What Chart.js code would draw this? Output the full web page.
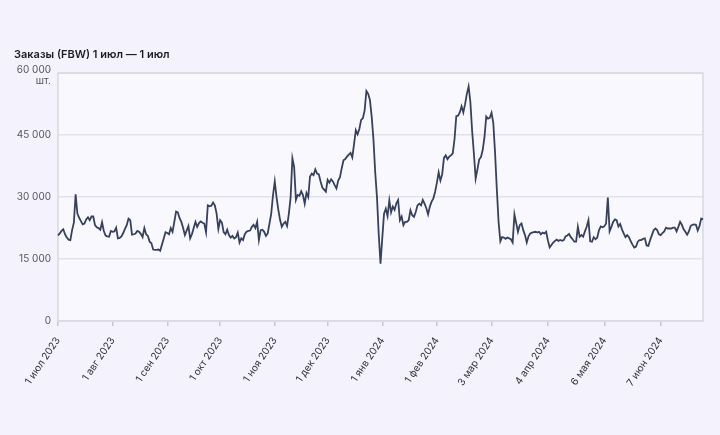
<!DOCTYPE html>
<html>
<head>
<meta charset="utf-8">
<script src="https://cdn.jsdelivr.net/npm/chart.js@4/dist/chart.umd.min.js"></script>
<style>
  html, body { margin: 0; padding: 0; background: #f3f2fd; }
  #wrap { width: 720px; height: 435px; }
</style>
</head>
<body>
<div id="wrap"><canvas id="c" width="720" height="435"></canvas></div>
<script>
// ---- DATA (daily orders, шт.) ----
const startDate = [2023, 6, 1]; // 1 июл 2023
const monthNames = ['янв','фев','мар','апр','мая','июн','июл','авг','сен','окт','ноя','дек'];
const jul2023 = [20700, 21200, 21800, 22200, 21000, 20200, 19700, 19600, 22000, 23800, 30700, 26000, 25000, 24200, 23400, 23600, 24600, 25100, 24400, 25300, 25300, 23200, 22700, 22500, 22100, 23900, 21800, 20700, 20500, 20400, 21800];
const aug2023 = [21600, 21700, 22600, 20000, 20100, 20500, 21300, 22300, 23200, 24800, 24400, 20900, 21000, 21200, 21800, 21600, 21100, 20300, 22500, 21000, 20600, 19200, 18800, 17300, 17200, 17200, 17300, 17000, 18500, 20000, 21500];
const sep2023 = [21300, 21000, 22500, 21600, 24000, 26500, 26300, 24900, 24000, 22500, 20800, 21900, 23000, 20000, 21000, 22500, 24000, 22800, 23700, 24100, 23800, 23600, 21500, 28000, 27800, 27900, 28700, 28000, 26000, 22300];
const oct2023 = [24400, 23800, 21500, 21000, 22100, 20800, 20200, 20600, 20000, 20300, 21400, 19000, 20000, 19600, 21000, 21600, 21800, 21900, 22800, 23300, 22500, 24000, 19600, 22000, 22100, 21600, 20600, 21200, 23600, 26000, 30500];
const nov2023 = [33800, 30000, 27000, 24500, 22800, 23600, 24000, 23000, 26000, 30000, 39400, 37300, 29300, 30500, 30300, 31400, 30500, 28400, 31000, 30000, 35000, 35700, 35300, 36700, 35700, 35500, 33800, 32300, 31800, 31300];
const dec2023 = [34200, 33500, 34300, 33800, 32900, 32100, 34000, 34800, 37000, 38900, 39200, 39800, 40300, 40700, 39600, 42900, 46200, 45200, 46500, 48700, 49100, 51000, 55700, 55000, 53500, 49500, 44000, 36000, 30000, 21000, 13900];
const jan2024 = [20000, 26000, 27200, 25400, 29200, 26300, 27700, 26900, 28500, 29300, 24400, 25300, 23200, 24000, 24000, 24400, 26800, 25600, 25200, 26400, 28000, 28400, 28000, 29300, 28400, 27300, 25800, 27700, 28900, 29700, 31300];
const feb2024 = [33500, 36000, 34000, 35500, 39500, 40100, 39200, 39800, 40100, 40600, 44000, 49600, 49700, 50500, 52000, 50500, 52500, 55000, 56800, 53000, 46000, 40500, 34500, 36700, 39100, 39700, 41400, 44500, 49500];
const mar2024 = [49000, 49200, 50400, 48000, 40800, 32000, 24000, 19300, 20300, 20200, 19900, 20200, 20000, 19800, 19000, 25800, 23700, 21600, 23200, 23600, 22000, 20800, 19000, 20500, 21200, 21400, 21500, 21600, 21400, 21600, 21000];
const apr2024 = [21400, 21200, 21600, 19500, 17800, 18400, 19000, 19400, 19700, 19400, 19600, 19400, 19600, 20500, 20700, 21100, 20300, 19800, 19200, 19200, 22800, 20400, 20800, 20400, 21700, 22800, 24400, 19300, 19200, 20300];
const may2024 = [19800, 20200, 22000, 22900, 22700, 22900, 23600, 29900, 21700, 22800, 24000, 24600, 24400, 22900, 23500, 22200, 21200, 20300, 20800, 20300, 19300, 18500, 17800, 18000, 19200, 19600, 19600, 19900, 20000, 18300, 18200];
const jun2024 = [19600, 20800, 22000, 22400, 22000, 21000, 20800, 21300, 21700, 22600, 22400, 22400, 22400, 22600, 22600, 21700, 22800, 24000, 23300, 22200, 21600, 20900, 21700, 23000, 23300, 23400, 23300, 21900, 23000, 24800];
const jul2024 = [24600];

const tickLabels = ['1 июл 2023','1 авг 2023','1 сен 2023','1 окт 2023','1 ноя 2023','1 дек 2023','1 янв 2024','1 фев 2024','3 мар 2024','4 апр 2024','6 мая 2024','7 июн 2024'];
const yTicks = [0, 15000, 30000, 45000, 60000];
const titleText = 'Заказы (FBW) 1 июл — 1 июл';
const unitText = 'шт.';

// ---- build ----
const values = [].concat(jul2023, aug2023, sep2023, oct2023, nov2023, dec2023, jan2024, feb2024, mar2024, apr2024, may2024, jun2024, jul2024);
const labels = values.map((_, i) => {
  const d = new Date(Date.UTC(startDate[0], startDate[1], startDate[2] + i));
  return d.getUTCDate() + ' ' + monthNames[d.getUTCMonth()] + ' ' + d.getUTCFullYear();
});
const tickSet = new Set(tickLabels);
const fmt = v => String(v).replace(/\B(?=(\d{3})+(?!\d))/g, ' ');
const yMax = yTicks[yTicks.length - 1];

Chart.defaults.font.family = 'Inter, "Noto Sans", sans-serif';

const bgPlugin = {
  id: 'bgPlugin',
  beforeDraw(chart) {
    const { ctx, chartArea: a } = chart;
    ctx.save();
    ctx.fillStyle = '#f3f2fd';
    ctx.fillRect(0, 0, chart.width, chart.height);
    ctx.fillStyle = '#f9f8fe';
    ctx.fillRect(a.left, a.top, a.right - a.left, a.bottom - a.top);
    ctx.restore();
  },
  beforeDatasetsDraw(chart) {
    const { ctx, chartArea: a } = chart;
    ctx.save();
    ctx.strokeStyle = '#d9d8e2';
    ctx.lineWidth = 1.5;
    ctx.strokeRect(a.left, a.top, a.right - a.left, a.bottom - a.top);
    ctx.restore();
  },
  afterDraw(chart) {
    const { ctx, chartArea: a } = chart;
    const yTop = chart.scales.y.getPixelForValue(yMax);
    ctx.save();
    ctx.font = '10px Inter, "Noto Sans", sans-serif';
    ctx.fillStyle = '#55555f';
    ctx.textAlign = 'right';
    ctx.textBaseline = 'middle';
    ctx.fillText(fmt(yMax), a.left - 7, yTop - 3);
    ctx.fillText(unitText, a.left - 7, yTop + 8);
    ctx.restore();
  }
};

new Chart(document.getElementById('c'), {
  type: 'line',
  data: {
    labels: labels,
    datasets: [{
      data: values,
      borderColor: '#37415e',
      borderWidth: 1.8,
      pointRadius: 0,
      tension: 0,
      fill: false
    }]
  },
  options: {
    responsive: false,
    animation: false,
    layout: { padding: { left: 14, right: 17, top: 47, bottom: 10 } },
    plugins: {
      legend: { display: false },
      tooltip: { enabled: false },
      title: {
        display: true,
        text: titleText,
        align: 'start',
        color: '#1c1c28',
        font: { size: 11, weight: '600' },
        padding: { top: 1, bottom: 12 }
      }
    },
    scales: {
      x: {
        type: 'category',
        offset: false,
        border: { display: false },
        grid: {
          drawOnChartArea: false,
          drawTicks: true,
          tickLength: 5,
          lineWidth: 1.5,
          tickColor: ctx => tickSet.has(labels[ctx.index]) ? '#c9c8d2' : 'rgba(0,0,0,0)'
        },
        ticks: {
          autoSkip: false,
          minRotation: 56,
          maxRotation: 56,
          padding: 9,
          color: '#33333d',
          font: { size: 10 },
          callback: (v, i) => tickSet.has(labels[i]) ? labels[i] : ''
        },
        afterFit: s => { s.height = 104; s.paddingLeft = 0; s.paddingRight = 0; }
      },
      y: {
        min: 0,
        max: yMax,
        border: { display: false },
        grid: { color: '#e3e2ea', lineWidth: 1.5, drawTicks: false },
        afterBuildTicks: s => { s.ticks = yTicks.map(v => ({ value: v })); },
        ticks: {
          padding: 7,
          color: '#55555f',
          font: { size: 10 },
          callback: v => v === yMax ? '' : fmt(v)
        },
        afterFit: s => { s.width = 44; }
      }
    }
  },
  plugins: [bgPlugin]
});
</script>
</body>
</html>
